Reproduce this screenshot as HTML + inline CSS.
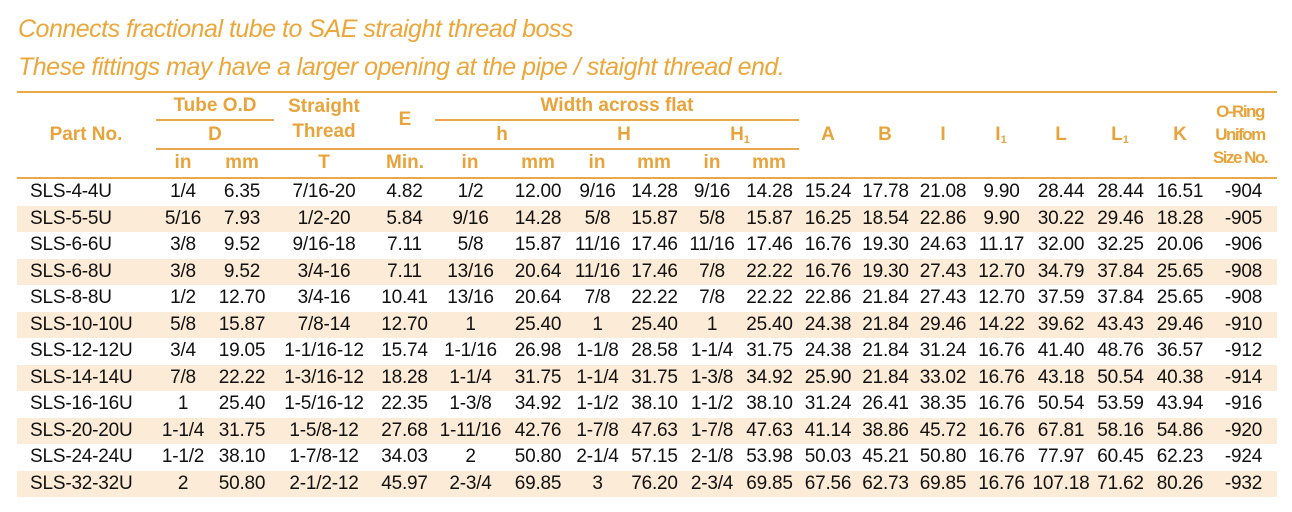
<!DOCTYPE html>
<html><head><meta charset="utf-8"><style>
body{margin:0;width:1292px;height:512px;background:#fff;position:relative;overflow:hidden;font-family:"Liberation Sans",sans-serif;}
.t{position:absolute;left:18px;font-style:italic;color:#eba73a;font-size:25px;letter-spacing:-0.5px;white-space:nowrap}
.ln{position:absolute;background:#e9a94a;height:2px}
.h{position:absolute;color:#e8a43a;font-weight:bold;font-size:19px;text-align:center;white-space:nowrap;transform:translate(-50%,-50%)}
.o{font-size:17px;letter-spacing:-1.5px;font-weight:bold}
.rows{position:absolute;left:17px;top:179px;width:1260px}
.r{height:26.5px;line-height:26.5px;font-size:19px;letter-spacing:-0.2px;color:#111;white-space:nowrap;display:flex}
.r:nth-child(even){background:#fcebd6}
.r span{display:block;text-align:center;flex:none}
.r span:first-child{text-align:left;padding-left:13px;box-sizing:border-box}
.r span:nth-child(1){width:139px}.r span:nth-child(2){width:54px}.r span:nth-child(3){width:64px}.r span:nth-child(4){width:100px}
.r span:nth-child(5){width:61px}.r span:nth-child(6){width:71px}.r span:nth-child(7){width:64px}.r span:nth-child(8){width:55px}
.r span:nth-child(9){width:59px}.r span:nth-child(10){width:56px}.r span:nth-child(11){width:59px}.r span:nth-child(12){width:58px}
.r span:nth-child(13){width:57px}.r span:nth-child(14){width:58px}.r span:nth-child(15){width:59px}.r span:nth-child(16){width:60px}
.r span:nth-child(17){width:59px}.r span:nth-child(18){width:60px}.r span:nth-child(19){width:67px}
sub{font-size:11px;vertical-align:-3px}
</style></head><body>
<div class="t" style="top:15px">Connects fractional tube to SAE straight thread boss</div>
<div class="t" style="top:53px">These fittings may have a larger opening at the pipe / staight thread end.</div>
<div class="ln" style="left:17px;width:1260px;top:91px"></div>
<div class="ln" style="left:156px;width:118px;top:119px"></div>
<div class="ln" style="left:435px;width:364px;top:119px"></div>
<div class="ln" style="left:156px;width:643px;top:148px"></div>
<div class="ln" style="left:17px;width:1260px;top:177px"></div>
<div class="h" style="left:86px;top:135px">Part No.</div>
<div class="h" style="left:215px;top:106px">Tube O.D</div>
<div class="h" style="left:215px;top:135px">D</div>
<div class="h" style="left:183px;top:163px">in</div>
<div class="h" style="left:242px;top:163px">mm</div>
<div class="h" style="left:324px;top:107px">Straight</div>
<div class="h" style="left:324px;top:132px">Thread</div>
<div class="h" style="left:324px;top:163px">T</div>
<div class="h" style="left:405px;top:120px">E</div>
<div class="h" style="left:405px;top:163px">Min.</div>
<div class="h" style="left:617px;top:106px">Width across flat</div>
<div class="h" style="left:502px;top:135px">h</div>
<div class="h" style="left:624px;top:135px">H</div>
<div class="h" style="left:740px;top:135px">H<sub>1</sub></div>
<div class="h" style="left:470px;top:163px">in</div>
<div class="h" style="left:538px;top:163px">mm</div>
<div class="h" style="left:597px;top:163px">in</div>
<div class="h" style="left:654px;top:163px">mm</div>
<div class="h" style="left:712px;top:163px">in</div>
<div class="h" style="left:769px;top:163px">mm</div>
<div class="h" style="left:828px;top:135px">A</div>
<div class="h" style="left:885px;top:135px">B</div>
<div class="h" style="left:943px;top:135px">I</div>
<div class="h" style="left:1001px;top:135px">I<sub>1</sub></div>
<div class="h" style="left:1061px;top:135px">L</div>
<div class="h" style="left:1120px;top:135px">L<sub>1</sub></div>
<div class="h" style="left:1180px;top:135px">K</div>
<div class="h o" style="left:1240px;top:112px">O-Ring</div>
<div class="h o" style="left:1240px;top:135px">Unifom</div>
<div class="h o" style="left:1240px;top:158px">Size No.</div>
<div class="rows">
<div class="r"><span>SLS-4-4U</span><span>1/4</span><span>6.35</span><span>7/16-20</span><span>4.82</span><span>1/2</span><span>12.00</span><span>9/16</span><span>14.28</span><span>9/16</span><span>14.28</span><span>15.24</span><span>17.78</span><span>21.08</span><span>9.90</span><span>28.44</span><span>28.44</span><span>16.51</span><span>-904</span></div>
<div class="r"><span>SLS-5-5U</span><span>5/16</span><span>7.93</span><span>1/2-20</span><span>5.84</span><span>9/16</span><span>14.28</span><span>5/8</span><span>15.87</span><span>5/8</span><span>15.87</span><span>16.25</span><span>18.54</span><span>22.86</span><span>9.90</span><span>30.22</span><span>29.46</span><span>18.28</span><span>-905</span></div>
<div class="r"><span>SLS-6-6U</span><span>3/8</span><span>9.52</span><span>9/16-18</span><span>7.11</span><span>5/8</span><span>15.87</span><span>11/16</span><span>17.46</span><span>11/16</span><span>17.46</span><span>16.76</span><span>19.30</span><span>24.63</span><span>11.17</span><span>32.00</span><span>32.25</span><span>20.06</span><span>-906</span></div>
<div class="r"><span>SLS-6-8U</span><span>3/8</span><span>9.52</span><span>3/4-16</span><span>7.11</span><span>13/16</span><span>20.64</span><span>11/16</span><span>17.46</span><span>7/8</span><span>22.22</span><span>16.76</span><span>19.30</span><span>27.43</span><span>12.70</span><span>34.79</span><span>37.84</span><span>25.65</span><span>-908</span></div>
<div class="r"><span>SLS-8-8U</span><span>1/2</span><span>12.70</span><span>3/4-16</span><span>10.41</span><span>13/16</span><span>20.64</span><span>7/8</span><span>22.22</span><span>7/8</span><span>22.22</span><span>22.86</span><span>21.84</span><span>27.43</span><span>12.70</span><span>37.59</span><span>37.84</span><span>25.65</span><span>-908</span></div>
<div class="r"><span>SLS-10-10U</span><span>5/8</span><span>15.87</span><span>7/8-14</span><span>12.70</span><span>1</span><span>25.40</span><span>1</span><span>25.40</span><span>1</span><span>25.40</span><span>24.38</span><span>21.84</span><span>29.46</span><span>14.22</span><span>39.62</span><span>43.43</span><span>29.46</span><span>-910</span></div>
<div class="r"><span>SLS-12-12U</span><span>3/4</span><span>19.05</span><span>1-1/16-12</span><span>15.74</span><span>1-1/16</span><span>26.98</span><span>1-1/8</span><span>28.58</span><span>1-1/4</span><span>31.75</span><span>24.38</span><span>21.84</span><span>31.24</span><span>16.76</span><span>41.40</span><span>48.76</span><span>36.57</span><span>-912</span></div>
<div class="r"><span>SLS-14-14U</span><span>7/8</span><span>22.22</span><span>1-3/16-12</span><span>18.28</span><span>1-1/4</span><span>31.75</span><span>1-1/4</span><span>31.75</span><span>1-3/8</span><span>34.92</span><span>25.90</span><span>21.84</span><span>33.02</span><span>16.76</span><span>43.18</span><span>50.54</span><span>40.38</span><span>-914</span></div>
<div class="r"><span>SLS-16-16U</span><span>1</span><span>25.40</span><span>1-5/16-12</span><span>22.35</span><span>1-3/8</span><span>34.92</span><span>1-1/2</span><span>38.10</span><span>1-1/2</span><span>38.10</span><span>31.24</span><span>26.41</span><span>38.35</span><span>16.76</span><span>50.54</span><span>53.59</span><span>43.94</span><span>-916</span></div>
<div class="r"><span>SLS-20-20U</span><span>1-1/4</span><span>31.75</span><span>1-5/8-12</span><span>27.68</span><span>1-11/16</span><span>42.76</span><span>1-7/8</span><span>47.63</span><span>1-7/8</span><span>47.63</span><span>41.14</span><span>38.86</span><span>45.72</span><span>16.76</span><span>67.81</span><span>58.16</span><span>54.86</span><span>-920</span></div>
<div class="r"><span>SLS-24-24U</span><span>1-1/2</span><span>38.10</span><span>1-7/8-12</span><span>34.03</span><span>2</span><span>50.80</span><span>2-1/4</span><span>57.15</span><span>2-1/8</span><span>53.98</span><span>50.03</span><span>45.21</span><span>50.80</span><span>16.76</span><span>77.97</span><span>60.45</span><span>62.23</span><span>-924</span></div>
<div class="r"><span>SLS-32-32U</span><span>2</span><span>50.80</span><span>2-1/2-12</span><span>45.97</span><span>2-3/4</span><span>69.85</span><span>3</span><span>76.20</span><span>2-3/4</span><span>69.85</span><span>67.56</span><span>62.73</span><span>69.85</span><span>16.76</span><span>107.18</span><span>71.62</span><span>80.26</span><span>-932</span></div>
</div>
</body></html>
